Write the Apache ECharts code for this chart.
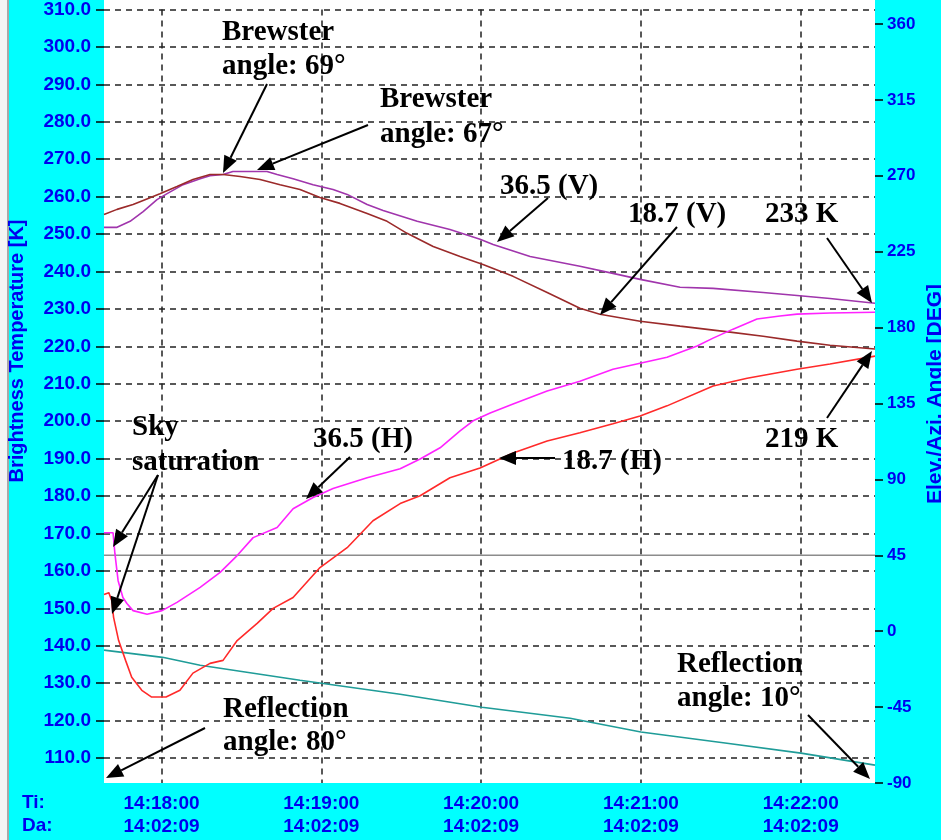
<!DOCTYPE html>
<html>
<head>
<meta charset="utf-8">
<script src="https://cdn.jsdelivr.net/npm/echarts@6/dist/echarts.min.js"></script>
<style>
  html, body { margin: 0; padding: 0; background: #00ffff; }
  #main { width: 941px; height: 840px; }
</style>
</head>
<body>
<div id="main"></div>
<script>
// tick values
const timeTicks = [60, 120, 180, 240, 300]; // seconds after 14:17:00
const dateLabel = '14:02:09';
const tempTicks = [110, 120, 130, 140, 150, 160, 170, 180, 190, 200, 210, 220, 230, 240, 250, 260, 270, 280, 290, 300, 310];
const angleTicks = [-90, -45, 0, 45, 90, 135, 180, 225, 270, 315, 360];

// [seconds after 14:17:00, brightness temperature K]
const tb365V = [[38.4,251.8],[43.3,251.8],[48.2,253.4],[53.1,256.0],[58.3,259.2],[62.1,260.8],[68.1,263.2],[74.5,264.8],[78.2,265.6],[83.1,265.9],[86.8,266.7],[99.6,266.7],[103.4,265.9],[109.4,264.8],[116.9,263.2],[124.4,261.9],[129.7,260.6],[137.2,257.9],[143.2,256.3],[156.0,253.4],[168.3,251.2],[179.6,248.6],[184.5,247.2],[198.4,244.0],[217.1,241.4],[229.5,239.5],[239.7,237.9],[254.7,235.8],[267.1,235.5],[285.9,234.4],[298.6,233.6],[311.0,232.8],[327.9,231.5]];
const tb187V = [[38.4,255.2],[43.3,256.6],[49.3,257.9],[53.1,259.0],[59.4,260.8],[65.8,262.7],[71.8,264.6],[78.2,265.9],[83.1,265.9],[89.5,265.4],[97.0,264.6],[104.5,263.2],[112.0,261.9],[119.5,259.8],[127.0,258.2],[137.2,255.5],[144.7,253.4],[152.2,250.2],[162.0,246.7],[172.1,244.0],[180.7,241.9],[192.0,238.7],[204.8,234.4],[217.1,230.2],[224.6,228.6],[239.7,226.7],[254.7,225.4],[273.5,223.8],[285.9,222.7],[298.6,221.4],[311.0,220.3],[327.9,219.3]];
const tb365H = [[38.4,170.2],[41.8,170.2],[42.5,164.6],[43.7,157.4],[45.5,152.9],[47.0,151.3],[49.3,149.4],[54.6,148.4],[60.2,149.4],[65.8,151.6],[74.5,155.6],[82.0,159.6],[88.4,164.1],[94.4,168.9],[103.4,171.6],[109.4,176.6],[116.9,179.6],[124.4,182.0],[137.2,184.9],[149.6,187.3],[157.1,189.9],[164.6,192.9],[172.1,197.4],[177.0,200.1],[183.4,202.2],[192.0,204.6],[204.8,208.1],[217.1,210.7],[229.5,213.9],[239.7,215.5],[249.8,217.1],[261.1,220.1],[267.1,222.2],[274.6,224.6],[283.6,227.3],[292.2,228.1],[298.6,228.6],[311.0,228.9],[327.9,229.1]];
const tb187H = [[38.4,153.7],[40.2,154.2],[41.3,152.1],[42.0,147.6],[43.9,141.4],[46.5,136.1],[48.8,131.6],[52.6,128.1],[56.3,126.3],[61.7,126.3],[66.9,128.1],[71.8,132.7],[78.2,135.3],[83.1,136.1],[88.4,141.4],[95.9,146.0],[101.9,150.0],[109.4,152.9],[119.5,160.9],[129.7,166.2],[139.4,173.4],[149.6,178.0],[157.1,180.1],[168.3,184.9],[179.6,187.5],[192.0,191.5],[204.8,194.7],[217.1,196.9],[229.5,199.3],[239.7,201.4],[249.8,204.1],[267.1,209.4],[279.9,211.5],[298.6,213.9],[311.0,215.3],[327.9,217.4]];
// [seconds after 14:17:00, angle DEG]
const elevation = [[38.4,-11.2],[60.4,-15.5],[74.5,-20.2],[112.0,-29.1],[149.6,-37.4],[180.3,-45.1],[213.4,-51.6],[240.0,-59.8],[271.6,-66.3],[300.1,-72.3],[327.9,-79.4]];
const azimuth = [[38.4,45],[327.9,45]];

const blue = '#0000ee';
const pad = n => (n < 10 ? '0' : '') + n;

function arrow(x1, y1, x2, y2) {
  const a = Math.atan2(y2 - y1, x2 - x1), L = 17, W = 7;
  const bx = x2 - L * Math.cos(a), by = y2 - L * Math.sin(a);
  const px = -Math.sin(a) * W, py = Math.cos(a) * W;
  return [
    { type: 'line', z: 100, shape: { x1: x1, y1: y1, x2: bx, y2: by }, style: { stroke: '#000', lineWidth: 2 } },
    { type: 'polygon', z: 100, shape: { points: [[x2, y2], [bx + px, by + py], [bx - px, by - py]] }, style: { fill: '#000' } }
  ];
}
function note(text, x, baseline) {
  return { type: 'text', z: 100, x: x, y: baseline - 10,
    style: { text: text, font: 'bold 29px "Liberation Serif"', fill: '#000', align: 'left', verticalAlign: 'middle' } };
}
function blueText(text, x, y, size, rot, align) {
  return { type: 'text', z: 100, x: x, y: y, rotation: rot || 0,
    style: { text: text, font: 'bold ' + size + 'px "Liberation Sans"', fill: blue, align: align || 'left', verticalAlign: 'middle' } };
}

const graphics = [
  { type: 'rect', z: -10, silent: true, shape: { x: 104, y: 0, width: 771, height: 783 }, style: { fill: '#fff' } },
  { type: 'rect', z: 100, shape: { x: 0, y: 0, width: 7, height: 840 }, style: { fill: '#f4f4f4' } },
  { type: 'rect', z: 100, shape: { x: 7, y: 0, width: 2, height: 840 }, style: { fill: '#a8a8a8' } },
  blueText('Brightness Temperature [K]', 17, 351, 20, Math.PI / 2, 'center'),
  blueText('Elev./Azi. Angle [DEG]', 935, 394, 21, Math.PI / 2, 'center'),
  blueText('Ti:', 22, 803, 19),
  blueText('Da:', 22, 826, 19),
  note('Brewster', 222, 43), note('angle: 69°', 222, 77),
  note('Brewster', 380, 110), note('angle: 67°', 380, 145),
  note('36.5 (V)', 500, 197),
  note('18.7 (V)', 628, 225),
  note('233 K', 765, 225),
  note('Sky', 132, 438), note('saturation', 132, 473),
  note('36.5 (H)', 313, 450),
  note('18.7 (H)', 562, 472),
  note('219 K', 765, 450),
  note('Reflection', 223, 720), note('angle: 80°', 223, 753),
  note('Reflection', 677, 675), note('angle: 10°', 677, 709)
].concat(
  arrow(267, 84, 223, 173),
  arrow(368, 125, 257, 170),
  arrow(548, 198, 497, 242),
  arrow(677, 227, 600, 315),
  arrow(827, 238, 872, 303),
  arrow(827, 418, 872, 351),
  arrow(555, 458, 499, 458),
  arrow(350, 457, 306, 499),
  arrow(158, 475, 113, 547),
  arrow(158, 475, 112, 614),
  arrow(205, 728, 106, 778),
  arrow(808, 715, 870, 779)
);

function line(name, data, color, yIdx) {
  return { name: name, type: 'line', data: data, yAxisIndex: yIdx || 0, symbol: 'none',
    lineStyle: { color: color, width: 1.6 }, z: 3 };
}

const chart = echarts.init(document.getElementById('main'));
chart.setOption({
  backgroundColor: '#00ffff',
  animation: false,
  grid: { left: 104, right: 66, top: 7.5, bottom: 57 },
  xAxis: {
    type: 'value', min: 38.4, max: 327.9,
    axisLine: { show: false },
    axisTick: { show: false, customValues: timeTicks },
    axisLabel: {
      customValues: timeTicks, color: blue, fontWeight: 'bold', fontSize: 19,
      fontFamily: 'Liberation Sans', lineHeight: 23, margin: 9,
      formatter: v => '14:' + pad(17 + Math.floor(v / 60)) + ':' + pad(Math.round(v % 60)) + '\n' + dateLabel
    },
    splitLine: { show: true, lineStyle: { color: '#222', type: [6, 5], width: 1.5 } }
  },
  yAxis: [{
    type: 'value', position: 'left', min: 103.34, max: 310,
    axisLine: { show: false },
    axisTick: { show: true, length: 8, customValues: tempTicks, lineStyle: { color: '#000', width: 1.5 } },
    axisLabel: { customValues: tempTicks, formatter: v => v.toFixed(1), color: blue, fontWeight: 'bold',
      fontSize: 19, fontFamily: 'Liberation Sans', margin: 13 },
    splitLine: { show: true, lineStyle: { color: '#222', type: [6, 5], width: 1.5 } }
  }, {
    type: 'value', position: 'right', min: -90, max: 368.57,
    axisLine: { show: false },
    axisTick: { show: true, length: 8, customValues: angleTicks, lineStyle: { color: '#000', width: 1.5 } },
    axisLabel: { customValues: angleTicks, color: blue, fontWeight: 'bold', fontSize: 17,
      fontFamily: 'Liberation Sans', margin: 12 },
    splitLine: { show: false }
  }],
  series: [
    line('Azimuth', azimuth, '#8c8c8c', 1),
    line('Elevation', elevation, '#1f9c98', 1),
    line('36.5 (V)', tb365V, '#a035ac'),
    line('18.7 (V)', tb187V, '#9b2a2a'),
    line('36.5 (H)', tb365H, '#ff22ff'),
    line('18.7 (H)', tb187H, '#ff2a2a')
  ],
  graphic: graphics
});
</script>
</body>
</html>
